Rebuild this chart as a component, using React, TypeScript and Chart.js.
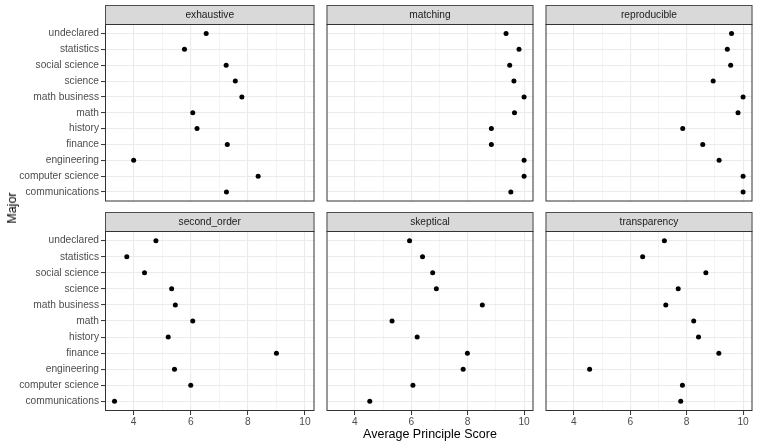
import { useEffect, useRef } from 'react';
import { Chart, ScatterController, LinearScale, PointElement } from 'chart.js';

Chart.register(ScatterController, LinearScale, PointElement);

const FONT = '"Liberation Sans", Arial, sans-serif';
Chart.defaults.font.family = FONT;

// categories, top to bottom
const majors = [
  'undeclared',
  'statistics',
  'social science',
  'science',
  'math business',
  'math',
  'history',
  'finance',
  'engineering',
  'computer science',
  'communications',
];

const exhaustive = [6.54, 5.78, 7.24, 7.56, 7.79, 6.07, 6.22, 7.28, 4.0, 8.36, 7.25];
const matching = [9.36, 9.82, 9.49, 9.64, 10.0, 9.66, 8.84, 8.84, 10.0, 10.0, 9.53];
const reproducible = [9.59, 9.44, 9.56, 8.94, 10.0, 9.82, 7.86, 8.57, 9.15, 10.0, 10.0];
const secondOrder = [4.78, 3.76, 4.38, 5.33, 5.46, 6.07, 5.21, 9.0, 5.43, 6.0, 3.33];
const skeptical = [5.94, 6.4, 6.76, 6.89, 8.52, 5.32, 6.21, 7.99, 7.84, 6.06, 4.53];
const transparency = [7.21, 6.44, 8.68, 7.7, 7.26, 8.25, 8.42, 9.14, 4.56, 7.85, 7.79];

const principles = ['exhaustive', 'matching', 'reproducible', 'second_order', 'skeptical', 'transparency'];
const scores = [exhaustive, matching, reproducible, secondOrder, skeptical, transparency];

// labelled x ticks; the odd values in between get minor grid lines
const xLabels = [4, 6, 8, 10];

// shared x range, ggplot-style 5% expansion
const allScores = scores.flat();
const lo = Math.min(...allScores);
const hi = Math.max(...allScores);
const X_MIN = lo - (hi - lo) * 0.05;
const X_MAX = hi + (hi - lo) * 0.05;

// layout (px)
const PANEL_X = [105, 324, 543];
const ROW_Y = [5, 212];
const PANEL_W = 212;
const PANEL_H = 180;
const STRIP_H = 19;
const AXIS_W = 105;
const AXIS_H = 22;

const facetPlugin = {
  id: 'facet',
  afterDraw(chart: any, _args: any, opts: any) {
    const { ctx, chartArea } = chart;
    const { left, right, top, bottom } = chartArea;
    const w = right - left;
    ctx.save();
    // strip
    ctx.fillStyle = '#D9D9D9';
    ctx.fillRect(left, top - STRIP_H, w, STRIP_H);
    ctx.strokeStyle = '#4D4D4D';
    ctx.lineWidth = 1;
    ctx.strokeRect(left + 0.5, top - STRIP_H + 0.5, w - 1, STRIP_H);
    ctx.fillStyle = '#1A1A1A';
    ctx.font = `10.2px ${FONT}`;
    ctx.textAlign = 'center';
    ctx.textBaseline = 'middle';
    ctx.fillText(opts.label, left + w / 2, top - STRIP_H / 2 + 0.5);
    // panel border
    ctx.strokeStyle = '#333333';
    ctx.strokeRect(left + 0.5, top + 0.5, w - 1, bottom - top - 1);
    ctx.restore();
  },
};

const isLabelled = (v: number) => xLabels.includes(v);

function Facet({ idx }: { idx: number }) {
  const canvasRef = useRef<HTMLCanvasElement>(null);
  const row = Math.floor(idx / 3);
  const col = idx % 3;
  const leftExtra = col === 0 ? AXIS_W : 0;
  const bottomExtra = row === 1 ? AXIS_H : 0;
  const width = PANEL_W + leftExtra;
  const height = STRIP_H + PANEL_H + bottomExtra;

  useEffect(() => {
    if (!canvasRef.current) return;
    const tickFont = { family: FONT, size: 10.2 };
    const chart = new Chart(canvasRef.current, {
      type: 'scatter',
      data: {
        datasets: [
          {
            data: majors.map((_, i) => ({ x: scores[idx][i], y: i })),
            backgroundColor: '#000000',
            borderWidth: 0,
            pointRadius: 2.5,
            pointHoverRadius: 2.5,
          },
        ],
      },
      options: {
        responsive: false,
        animation: false,
        events: [],
        layout: { padding: { top: STRIP_H, left: 0, right: 0, bottom: 0 } },
        plugins: {
          facet: { label: principles[idx] },
        } as any,
        scales: {
          x: {
            type: 'linear',
            bounds: 'data',
            min: X_MIN,
            max: X_MAX,
            border: { display: false },
            grid: {
              color: '#EBEBEB',
              lineWidth: (c: any) => (c.tick && isLabelled(c.tick.value) ? 1.1 : 0.55),
              drawTicks: row === 1,
              tickLength: 4,
              tickWidth: 1,
              tickColor: (c: any) => (c.tick && isLabelled(c.tick.value) ? '#333333' : 'rgba(0,0,0,0)'),
            },
            ticks: {
              display: row === 1,
              autoSkip: false,
              maxRotation: 0,
              padding: 1,
              font: tickFont,
              color: '#4D4D4D',
              callback: (v: any) => (isLabelled(Number(v)) ? String(v) : ''),
            },
            afterBuildTicks: (s: any) => {
              const t: { value: number }[] = [];
              for (let v = xLabels[0]; v <= s.max; v += 1) t.push({ value: v });
              s.ticks = t;
            },
            afterFit: (s: any) => {
              s.height = bottomExtra;
              s.paddingLeft = 0;
              s.paddingRight = 0;
            },
          },
          y: {
            type: 'linear',
            bounds: 'data',
            reverse: true,
            min: -0.6,
            max: majors.length - 1 + 0.6,
            border: { display: false },
            grid: {
              color: '#EBEBEB',
              lineWidth: 1.1,
              drawTicks: col === 0,
              tickLength: 4,
              tickWidth: 1,
              tickColor: '#333333',
            },
            ticks: {
              display: col === 0,
              autoSkip: false,
              padding: 2,
              font: tickFont,
              color: '#4D4D4D',
              callback: (v: any) => majors[Number(v)] ?? '',
            },
            afterBuildTicks: (s: any) => {
              s.ticks = majors.map((_, i) => ({ value: i }));
            },
            afterFit: (s: any) => {
              s.width = leftExtra;
              s.paddingTop = 0;
              s.paddingBottom = 0;
            },
          },
        },
      },
      plugins: [facetPlugin],
    });
    return () => chart.destroy();
  }, [idx, row, col, leftExtra, bottomExtra]);

  return (
    <canvas
      ref={canvasRef}
      width={width}
      height={height}
      style={{
        position: 'absolute',
        left: PANEL_X[col] - leftExtra,
        top: ROW_Y[row],
        width,
        height,
      }}
    />
  );
}

export default function App() {
  return (
    <div
      style={{
        position: 'absolute',
        left: 0,
        top: 0,
        width: 761,
        height: 448,
        background: '#FFFFFF',
        fontFamily: FONT,
        overflow: 'hidden',
      }}
    >
      {principles.map((p, i) => (
        <Facet key={p} idx={i} />
      ))}
      <div
        style={{
          position: 'absolute',
          left: 12,
          top: 208,
          transform: 'translate(-50%, -50%) rotate(-90deg)',
          fontSize: 12.5,
          color: '#000000',
          whiteSpace: 'nowrap',
        }}
      >
        Major
      </div>
      <div
        style={{
          position: 'absolute',
          left: 430,
          top: 434,
          transform: 'translate(-50%, -50%)',
          fontSize: 12.5,
          color: '#000000',
          whiteSpace: 'nowrap',
        }}
      >
        Average Principle Score
      </div>
    </div>
  );
}
